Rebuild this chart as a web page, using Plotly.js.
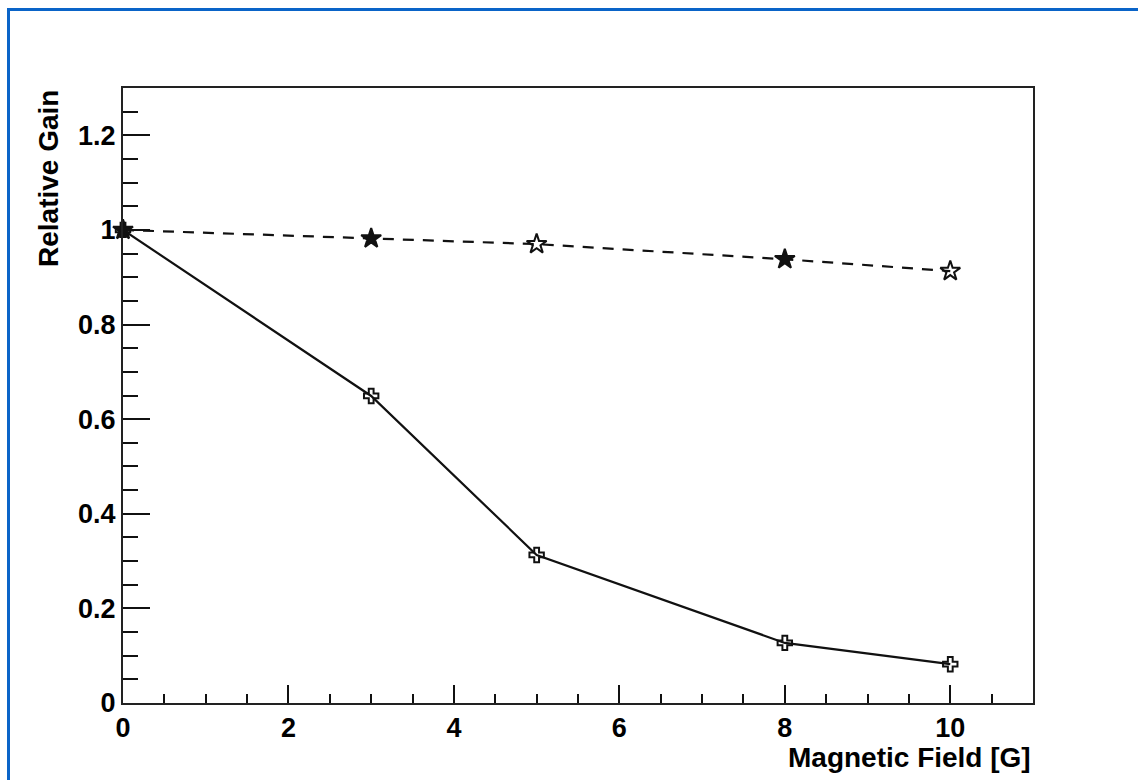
<!DOCTYPE html>
<html>
<head>
<meta charset="utf-8">
<script src="https://cdn.plot.ly/plotly-3.0.1.min.js"></script>
<style>
  html, body { margin: 0; padding: 0; background: #ffffff; }
  #chart { position: absolute; left: 0; top: 0; width: 1138px; height: 780px; }
  #frame { position: absolute; left: 7px; top: 8px; width: 1131px; height: 772px;
           border-top: 3px solid #0a64c8; border-left: 3px solid #0a64c8;
           box-sizing: border-box; pointer-events: none; z-index: 10; }
</style>
</head>
<body>
<div id="chart"></div>
<div id="frame"></div>
<script>
// Data
const magneticField = [0, 3, 5, 8, 10];
const gainStars   = [1.0, 0.982, 0.970, 0.938, 0.913];
const gainCrosses = [1.0, 0.649, 0.313, 0.127, 0.082];
const xTitle = 'Magnetic Field [G]';
const yTitle = 'Relative Gain';

const fontFam = '"Liberation Sans", Arial, Helvetica, sans-serif';

const traces = [
  {
    x: magneticField, y: gainCrosses, type: 'scatter', mode: 'lines+markers',
    cliponaxis: false,
    line: { color: '#111111', width: 2.2 },
    marker: { symbol: 'cross-open', size: 12, color: '#111111', line: { width: 2, color: '#111111' } },
    showlegend: false
  },
  {
    x: magneticField, y: gainStars, type: 'scatter', mode: 'lines+markers',
    cliponaxis: false,
    line: { color: '#111111', width: 2.2, dash: '11px,9px' },
    marker: { symbol: ['star', 'star', 'star-open', 'star', 'star-open'], size: 15, color: '#111111',
              line: { width: 2, color: '#111111' } },
    showlegend: false
  }
];

const layout = {
  width: 1138, height: 780,
  margin: { l: 123, r: 105, t: 88, b: 77, pad: 0 },
  paper_bgcolor: '#ffffff', plot_bgcolor: '#ffffff',
  font: { family: fontFam, color: '#000000' },
  xaxis: {
    range: [0, 11], dtick: 2, tick0: 0,
    ticks: 'inside', ticklen: 18, tickwidth: 2, tickcolor: '#111111',
    minor: { dtick: 0.5, ticks: 'inside', ticklen: 9, tickwidth: 2, tickcolor: '#111111' },
    showline: true, linecolor: '#222222', linewidth: 2, mirror: true,
    showgrid: false, zeroline: false,
    tickfont: { family: fontFam, size: 27, weight: 'bold', color: '#000000' }
  },
  yaxis: {
    range: [0, 1.3], dtick: 0.2, tick0: 0,
    ticks: 'inside', ticklen: 27, tickwidth: 2, tickcolor: '#111111',
    minor: { dtick: 0.05, ticks: 'inside', ticklen: 15, tickwidth: 2, tickcolor: '#111111' },
    showline: true, linecolor: '#222222', linewidth: 2, mirror: true,
    showgrid: false, zeroline: false,
    tickfont: { family: fontFam, size: 27, weight: 'bold', color: '#000000' }
  },
  annotations: [
    {
      text: xTitle, xref: 'paper', yref: 'paper', x: 1, y: 0,
      xanchor: 'right', yanchor: 'top', yshift: -37, showarrow: false,
      font: { family: fontFam, size: 28, weight: 'bold', color: '#000000' }
    },
    {
      text: yTitle, xref: 'paper', yref: 'paper', x: 0, y: 1,
      xanchor: 'right', yanchor: 'top', xshift: -57, textangle: -90, showarrow: false,
      font: { family: fontFam, size: 28, weight: 'bold', color: '#000000' }
    }
  ]
};

Plotly.newPlot('chart', traces, layout, { displayModeBar: false, staticPlot: true });
</script>
</body>
</html>
